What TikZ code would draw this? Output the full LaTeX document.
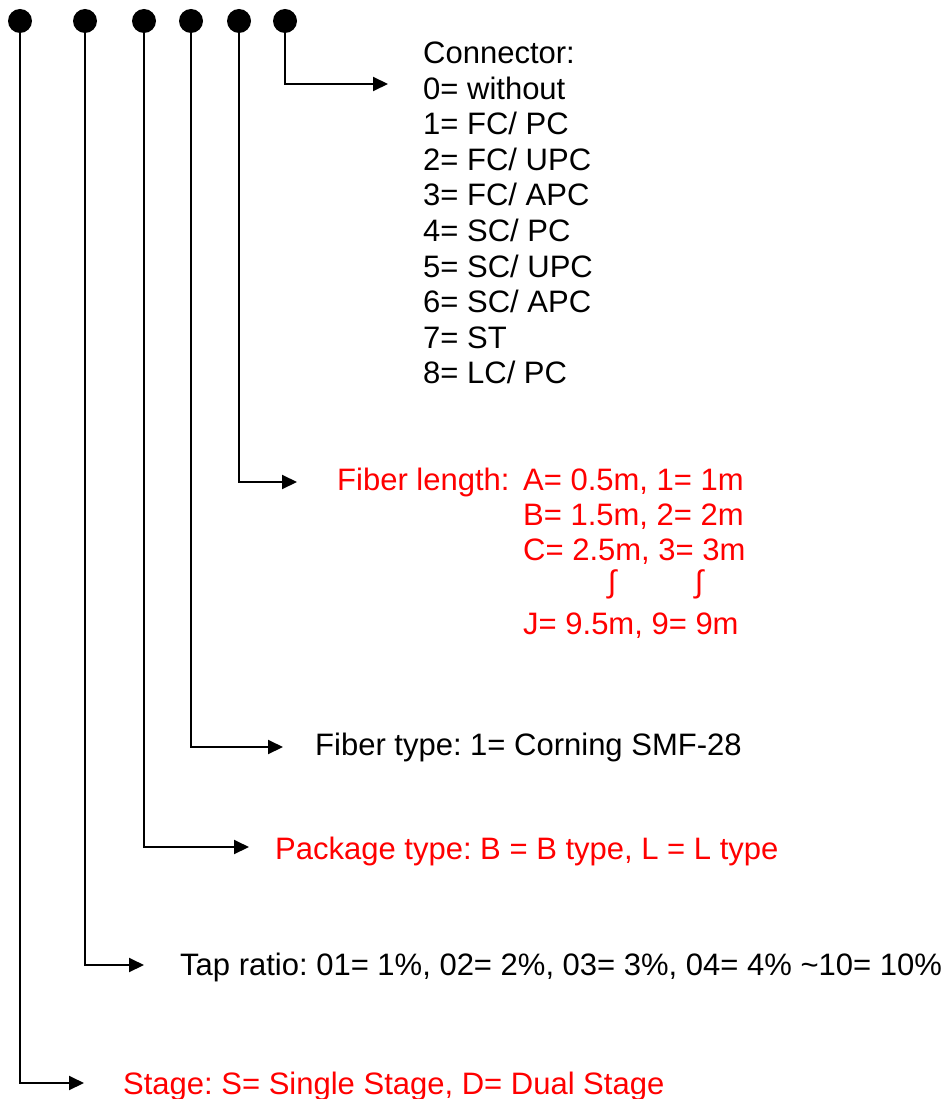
\documentclass[tikz,border=0pt]{standalone}
\usepackage{fontspec}
\setmainfont{Liberation Sans}
\usetikzlibrary{arrows.meta}
\definecolor{lblred}{RGB}{255,0,0}
\frenchspacing
\tikzset{
  x=1pt,y=-1pt,
  dot/.style={circle,fill=black,inner sep=0pt,minimum size=24pt},
  lead/.style={line width=2pt,-{Triangle[length=15pt,width=14pt]}},
  txt/.style={anchor=base west,inner sep=0pt,font=\fontsize{31}{35}\selectfont},
  redtxt/.style={txt,text=lblred},
  integ/.style={text=lblred,inner sep=0pt,font=\fontsize{31}{35}\selectfont},
}
\begin{document}
\begin{tikzpicture}
\useasboundingbox (0,0) rectangle (951,1099);
% dots
\node[dot] (d1) at (20,21) {};
\node[dot] (d2) at (85,21) {};
\node[dot] (d3) at (144,21) {};
\node[dot] (d4) at (191,21) {};
\node[dot] (d5) at (239,21) {};
\node[dot] (d6) at (285,21) {};
% arrow tips
\coordinate (t6) at (388,84);
\coordinate (t5) at (297,482);
\coordinate (t4) at (283,747);
\coordinate (t3) at (249,847);
\coordinate (t2) at (144,965);
\coordinate (t1) at (84,1083);
% leads
\draw[lead] (d6) |- (t6);
\draw[lead] (d5) |- (t5);
\draw[lead] (d4) |- (t4);
\draw[lead] (d3) |- (t3);
\draw[lead] (d2) |- (t2);
\draw[lead] (d1) |- (t1);
% connector list
\foreach \t [count=\i from 0] in {Connector:,0= without,1= FC/ PC,2= FC/ UPC,3= FC/ APC,4= SC/ PC,5= SC/ UPC,6= SC/ APC,7= ST,8= LC/ PC}
  \node[txt] (c\i) at (423,{64+35.5*\i}) {\t};
% fiber length
\node[redtxt] (fl) at (337,490) {Fiber length:};
\node[redtxt] (fa) at (523,490) {A= 0.5m, 1= 1m};
\node[redtxt] (fb) at (523,525) {B= 1.5m, 2= 2m};
\node[redtxt] (fc) at (523,560) {C= 2.5m, 3= 3m};
\node[integ] (i1) at (612,584) {∫};
\node[integ] (i2) at (699,584) {∫};
\node[redtxt] (fj) at (523,634) {J= 9.5m, 9= 9m};
% others
\node[txt] (ft) at (315,755) {Fiber type: 1= Corning SMF-28};
\node[redtxt] (pt) at (275,859) {Package type: B = B type, L = L type};
\node[txt] (tr) at (180,975) {Tap ratio: 01= 1\%, 02= 2\%, 03= 3\%, 04= 4\% \textasciitilde10= 10\%};
\node[redtxt] (st) at (123,1094) {Stage: S= Single Stage, D= Dual Stage};
\end{tikzpicture}
\end{document}
